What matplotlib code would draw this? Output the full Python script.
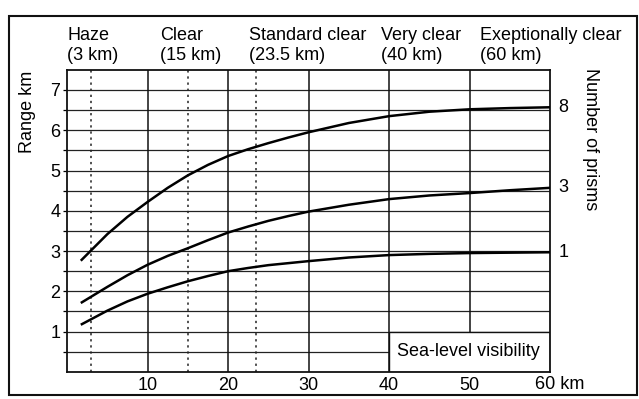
import numpy as np
import matplotlib.pyplot as plt
from matplotlib.patches import Rectangle
from matplotlib.transforms import blended_transform_factory, offset_copy

plt.rcParams['font.family'] = ['Liberation Sans', 'DejaVu Sans']

# visibility (km) where the curves were read
vis_km = [1.7, 5, 7.5, 10, 12.5, 15, 17.5, 20, 22.5, 25, 27.5, 30, 35, 40, 45, 50, 55, 60]

# range (km) for each number of prisms
range_8 = [2.76, 3.42, 3.85, 4.22, 4.57, 4.88, 5.14, 5.36, 5.53, 5.68, 5.82, 5.95,
           6.18, 6.35, 6.46, 6.52, 6.55, 6.57]
range_3 = [1.71, 2.11, 2.40, 2.66, 2.88, 3.07, 3.27, 3.46, 3.61, 3.75, 3.87, 3.98,
           4.15, 4.29, 4.38, 4.44, 4.51, 4.57]
range_1 = [1.17, 1.52, 1.75, 1.94, 2.10, 2.25, 2.38, 2.50, 2.58, 2.65, 2.70, 2.75,
           2.84, 2.90, 2.93, 2.95, 2.96, 2.97]
prism_labels = ['8', '3', '1']

# visibility classes shown on top
class_names = ['Haze', 'Clear', 'Standard clear', 'Very clear', 'Exeptionally clear']
class_km = [3, 15, 23.5, 40, 60]
class_km_txt = ['3', '15', '23.5', '40', '60']
class_text_x = [0, 11.5, 22.6, 39.0, 51.3]   # left edge of each label

x_ticks = [10, 20, 30, 40, 50]
y_ticks = [1, 2, 3, 4, 5, 6, 7]

fig = plt.figure(figsize=(6.39, 3.99), dpi=100)
ax = fig.add_axes([0.105, 0.068, 0.756, 0.757])

fs = 13
ax.set_xlim(0, 60)
ax.set_ylim(0, 7.5)

# grid
for yv in np.arange(0.5, 7.5, 0.5):
    ax.axhline(yv, color='#222222', lw=0.9, zorder=1)
for xv in x_ticks:
    ax.axvline(xv, color='#111111', lw=1.1, zorder=1)
for xv in class_km[:3]:
    ax.axvline(xv, color='#222222', lw=1.1, ls=(0, (1.5, 2.5)), zorder=1)

# sea-level box
ax.add_patch(Rectangle((40, 0), 20, 1.0, facecolor='white', edgecolor='#111111',
                       lw=1.0, zorder=2))
ax.text(41.0, 0.5, 'Sea-level visibility', fontsize=fs, va='center', ha='left', zorder=3)

# curves
for ys, lab in zip([range_8, range_3, range_1], prism_labels):
    ax.plot(vis_km, ys, color='black', lw=1.8, zorder=4,
            solid_capstyle='butt', solid_joinstyle='round')
    ax.text(61.0, ys[-1], lab, fontsize=fs, va='center', ha='left')

for sp in ax.spines.values():
    sp.set_linewidth(1.3)
    sp.set_color('#111111')

ax.set_xticks(x_ticks)
ax.set_xticklabels([str(v) for v in x_ticks])
ax.set_yticks(y_ticks)
ax.set_yticks(np.arange(0.5, 7.5, 0.5), minor=True)
ax.tick_params(axis='x', length=0, labelsize=fs, pad=4)
ax.tick_params(axis='y', which='both', length=3, width=0.9, labelsize=fs, pad=2)
ax.tick_params(axis='y', which='minor', labelleft=False)

trans = blended_transform_factory(ax.transData, ax.transAxes)
ax.text(60, 0, '60 km', fontsize=fs, va='top', ha='center',
        transform=offset_copy(trans, fig=fig, x=10, y=-4, units='dots'))

for name, km, tx in zip(class_names, class_km_txt, class_text_x):
    ax.text(tx, 1.02, f'{name}\n({km} km)', fontsize=fs, transform=trans,
            va='bottom', ha='left', linespacing=1.2)

fig.text(0.043, 0.72, 'Range km', rotation=90, fontsize=fs, va='center', ha='center')
fig.text(0.924, 0.83, 'Number of prisms', rotation=270, fontsize=fs, va='top', ha='center')

# outer frame
fig.add_artist(Rectangle((0.014, 0.01), 0.983, 0.95, transform=fig.transFigure,
                         fill=False, edgecolor='#111111', lw=1.5))

fig.savefig('out.png', dpi=100)
